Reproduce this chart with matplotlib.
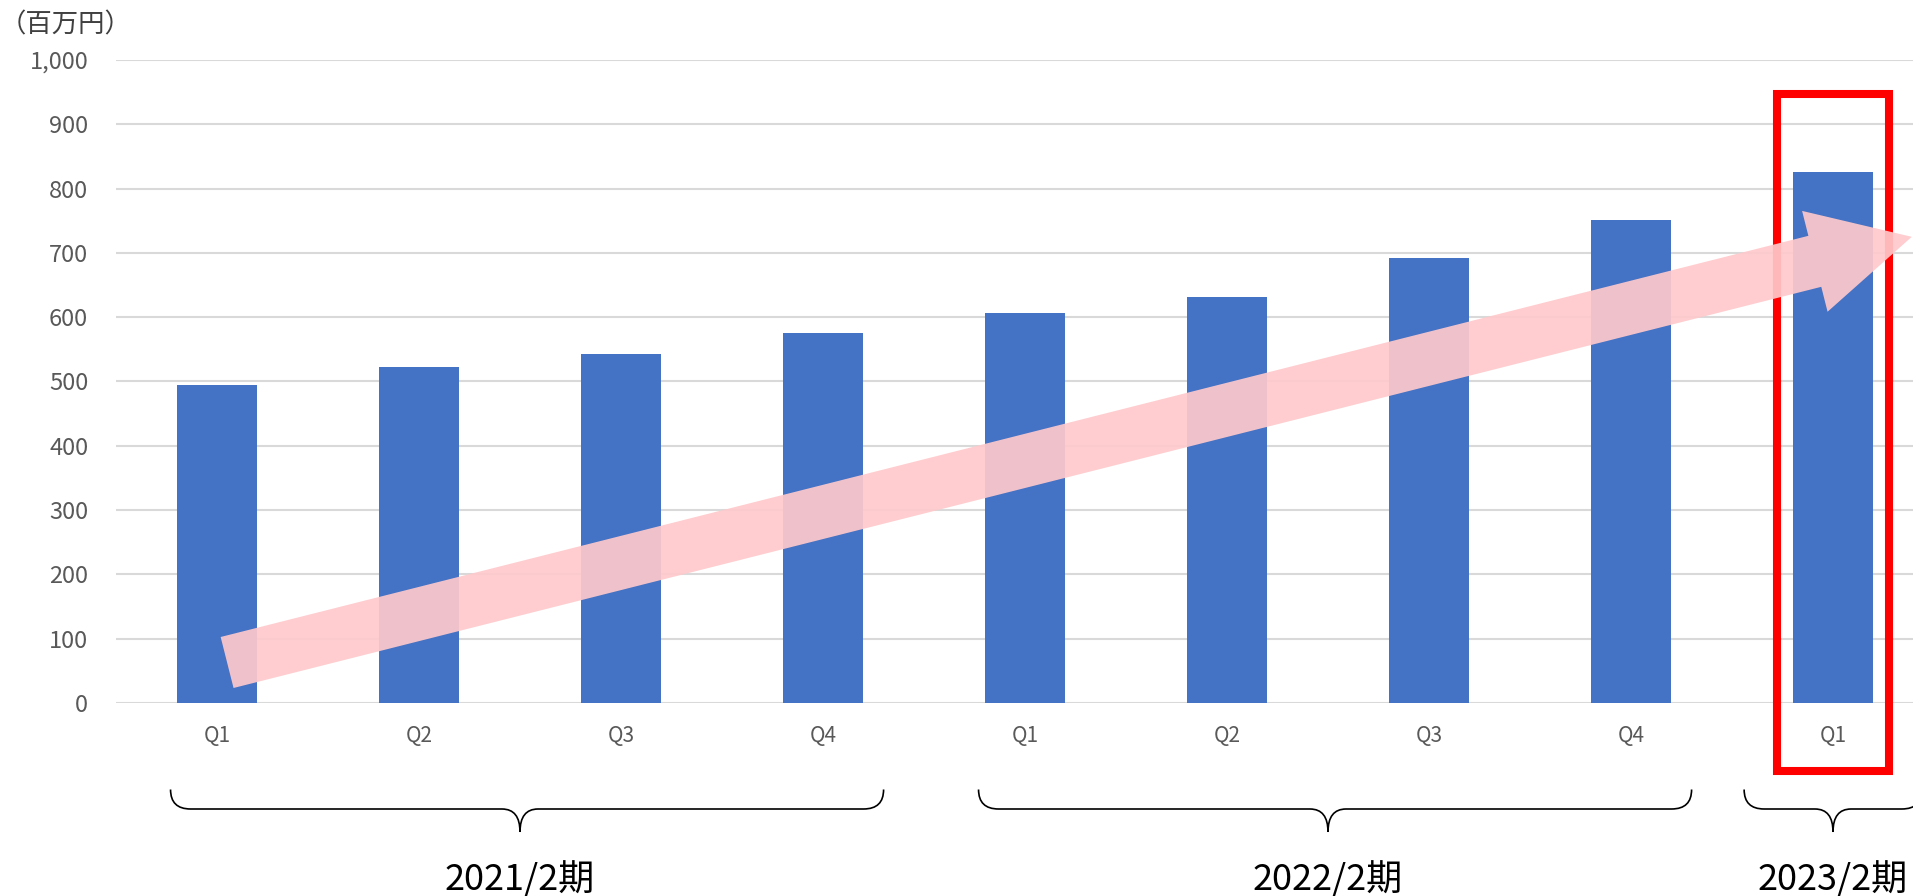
import numpy as np
import matplotlib
matplotlib.use('Agg')
import matplotlib.pyplot as plt
from matplotlib.patches import Polygon, Rectangle, PathPatch
from matplotlib.path import Path
from matplotlib.transforms import IdentityTransform
from matplotlib.ticker import FuncFormatter

plt.rcParams['font.family'] = ['Noto Sans CJK JP', 'DejaVu Sans']

# data
quarters = ['Q1', 'Q2', 'Q3', 'Q4', 'Q1', 'Q2', 'Q3', 'Q4', 'Q1']
sales = [495, 523, 542, 575, 606, 631, 692, 751, 826]
periods = ['2021/2期', '2022/2期', '2023/2期']
period_members = [[0, 1, 2, 3], [4, 5, 6, 7], [8]]
highlight_idx = 8
unit_label = '（百万円）'

W, H = 1913, 896
fig = plt.figure(figsize=(W / 100, H / 100), dpi=100)
# axes laid out in pixels: plot area starts at x=116, zero line at y=703, 1000 at y=60
ax = fig.add_axes([116 / W, (H - 703) / H, 1818 / W, (703 - 60) / H])

x = np.arange(len(sales))
ax.bar(x, sales, width=0.40, color='#4472C4', zorder=2)

ax.set_xlim(-0.5, len(sales) - 0.5)
ax.set_ylim(0, 1000)
ax.set_yticks(np.arange(0, 1001, 100))
ax.yaxis.set_major_formatter(FuncFormatter(lambda v, p: f'{int(v):,}'))
ax.grid(axis='y', color='#D9D9D9', linewidth=1.5, zorder=0)
ax.set_axisbelow(True)
for s in ax.spines.values():
    s.set_visible(False)
ax.tick_params(axis='y', length=0, pad=20, labelsize=17, labelcolor='#595959')
ax.set_xticks(x)
ax.set_xticklabels(quarters)
ax.tick_params(axis='x', length=0, pad=16, labelsize=15, labelcolor='#595959')

fig.text(0, 1 - 25 / H, unit_label, fontsize=19, color='#404040',
         ha='left', va='center')

# red highlight box around the latest quarter
box = Rectangle((highlight_idx - 0.277, -106), 0.554, 1053, fill=False,
                edgecolor='#FF0000', linewidth=5.8, clip_on=False, zorder=4)
ax.add_patch(box)

# big pink trend arrow (drawn in pixel space so its width is constant)
p0 = ax.transData.transform((0.05, 63))
p1 = ax.transData.transform((8.39, 725))
d = (p1 - p0) / np.hypot(*(p1 - p0))
n = np.array([-d[1], d[0]])
shaft_w, head_w, head_l = 26.3, 52, 100
base = p1 - d * head_l
pts = [p0 + n * shaft_w, base + n * shaft_w, base + n * head_w, p1,
       base - n * head_w, base - n * shaft_w, p0 - n * shaft_w]
fig.add_artist(Polygon(pts, closed=True, transform=IdentityTransform(),
                       facecolor='#FFC9CB', edgecolor='none', alpha=0.92, zorder=5))


# curly braces under each fiscal period
def brace(x0, x1, xc, y_top=789.5, y_mid=809, y_tip=832, r=20, r2=18):
    yt, ym, yb = H - y_top, H - y_mid, H - y_tip
    verts = [(x0, yt), (x0, ym), (x0 + r, ym),
             (xc - r2, ym),
             (xc, ym), (xc, yb),
             (xc, ym), (xc + r2, ym),
             (x1 - r, ym),
             (x1, ym), (x1, yt)]
    codes = [Path.MOVETO, Path.CURVE3, Path.CURVE3,
             Path.LINETO,
             Path.CURVE3, Path.CURVE3,
             Path.CURVE3, Path.CURVE3,
             Path.LINETO,
             Path.CURVE3, Path.CURVE3]
    fig.add_artist(PathPatch(Path(verts, codes), transform=IdentityTransform(),
                             fill=False, edgecolor='black', linewidth=1.2))


for label, members in zip(periods, period_members):
    c = np.mean(members)
    if len(members) > 1:
        lo, hi = members[0] - 0.23, members[-1] + 0.3
    else:
        lo, hi = c - 0.44, c + 0.44
    xl = ax.transData.transform((lo, 0))[0]
    xh = ax.transData.transform((hi, 0))[0]
    xc = ax.transData.transform((c, 0))[0]
    brace(xl, xh, xc)
    fig.text(xc / W, 1 - 880 / H, label, fontsize=26, color='black',
             ha='center', va='center')

fig.savefig('out.png', dpi=100)
